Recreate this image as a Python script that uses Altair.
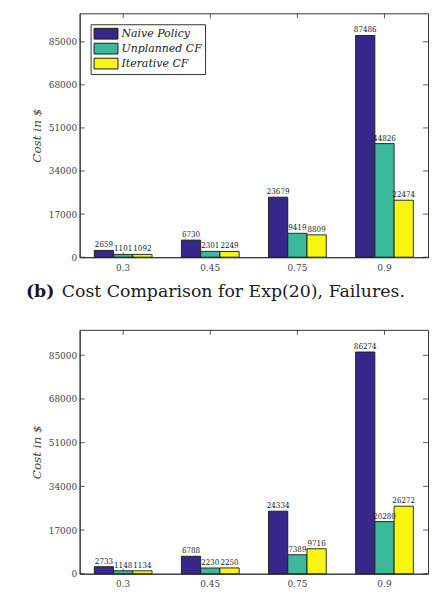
import altair as alt
import pandas as pd

# Utilisation levels and the three cost policies
rates = ["0.3", "0.45", "0.75", "0.9"]
policies = ["Naive Policy", "Unplanned CF", "Iterative CF"]
colors = ["#35288a", "#3bb99a", "#f8f50f"]

# Upper panel: total cost per utilisation level
naive_a = [2659, 6730, 23679, 87486]
unplanned_a = [1101, 2301, 9419, 44826]
iterative_a = [1092, 2249, 8809, 22474]

# Lower panel
naive_b = [2733, 6788, 24334, 86274]
unplanned_b = [1148, 2230, 7389, 20280]
iterative_b = [1134, 2250, 9716, 26272]

y_ticks = [0, 17000, 34000, 51000, 68000, 85000]

caption_tag = "(b)"
caption_text = "Cost Comparison for Exp(20), Failures."

W, H = 350, 245
SERIF = "'DejaVu Serif', serif"
SERIF_NARROW = "'DejaVu Serif Condensed', 'DejaVu Serif', serif"
INK = "#1a1a1a"


def panel(series, with_caption=False):
    rows = []
    for i, r in enumerate(rates):
        for p, vals in zip(policies, series):
            rows.append({"rate": r, "policy": p, "cost": vals[i]})
    df = pd.DataFrame(rows)
    ymax = 1.1 * df["cost"].max()

    xs = alt.Scale(domain=rates, paddingInner=0.337, paddingOuter=0.1685)
    ys = alt.Scale(domain=[0, ymax], nice=False, zero=True)
    xoff = alt.XOffset("policy:N", sort=policies,
                       scale=alt.Scale(domain=policies, paddingInner=0, paddingOuter=0))
    x_axis = alt.Axis(title=None, labelAngle=0, labelPadding=5)
    y_axis = alt.Axis(title="Cost in $", values=y_ticks, format="d",
                      labelPadding=3, titlePadding=5)

    bars = alt.Chart(df).mark_bar(stroke=INK, strokeWidth=0.9).encode(
        x=alt.X("rate:N", scale=xs, sort=rates, axis=x_axis),
        xOffset=xoff,
        y=alt.Y("cost:Q", scale=ys, axis=y_axis),
        color=alt.Color(
            "policy:N",
            scale=alt.Scale(domain=policies, range=colors),
            legend=alt.Legend(
                title=None, orient="none", legendX=11, legendY=11,
                # wide swatch drawn to the right of the symbol anchor
                symbolType="M-1,-0.9H3V0.9H-1Z", symbolSize=144,
                symbolStrokeColor=INK, symbolStrokeWidth=1,
                labelFont=SERIF, labelFontStyle="italic", labelFontSize=11,
                labelColor=INK, labelOffset=15,
                strokeColor="#333", fillColor="white", padding=3,
                rowPadding=0, cornerRadius=0,
            ),
        ),
    )

    values = alt.Chart(df).mark_text(
        baseline="bottom", dy=-1, font=SERIF_NARROW, fontSize=8, color=INK
    ).encode(
        x=alt.X("rate:N", scale=xs, sort=rates, axis=x_axis),
        xOffset=xoff,
        y=alt.Y("cost:Q", scale=ys, axis=y_axis),
        text=alt.Text("cost:Q", format="d"),
    )

    # inward tick marks on all four sides of the box
    ytick_df = pd.DataFrame({"cost": y_ticks})
    left_ticks = alt.Chart(ytick_df).mark_rule(color="#333", strokeWidth=0.8).encode(
        y=alt.Y("cost:Q", scale=ys, axis=y_axis),
        x=alt.value(0), x2=alt.value(5),
    )
    right_ticks = alt.Chart(ytick_df).mark_rule(color="#333", strokeWidth=0.8).encode(
        y=alt.Y("cost:Q", scale=ys, axis=y_axis),
        x=alt.value(W - 5), x2=alt.value(W),
    )
    xtick_df = pd.DataFrame({"rate": rates})
    bottom_ticks = alt.Chart(xtick_df).mark_rule(color="#333", strokeWidth=0.8).encode(
        x=alt.X("rate:N", scale=xs, sort=rates, axis=x_axis, bandPosition=0.5),
        y=alt.value(H - 5), y2=alt.value(H),
    )
    top_ticks = alt.Chart(xtick_df).mark_rule(color="#333", strokeWidth=0.8).encode(
        x=alt.X("rate:N", scale=xs, sort=rates, axis=x_axis, bandPosition=0.5),
        y=alt.value(0), y2=alt.value(5),
    )

    layers = [bottom_ticks, top_ticks, left_ticks, right_ticks, bars, values]

    if with_caption:
        tag = alt.Chart(pd.DataFrame({"t": [caption_tag]})).mark_text(
            align="left", baseline="alphabetic", font=SERIF, fontSize=17.4,
            fontWeight="bold", color=INK,
        ).encode(text="t:N", x=alt.value(-54), y=alt.value(285))
        cap = alt.Chart(pd.DataFrame({"t": [caption_text]})).mark_text(
            align="left", baseline="alphabetic", font=SERIF, fontSize=17.4,
            color=INK,
        ).encode(text="t:N", x=alt.value(-18), y=alt.value(285))
        layers += [tag, cap]

    return alt.layer(*layers).properties(width=W, height=H)


top = panel([naive_a, unplanned_a, iterative_a], with_caption=True)
bottom = panel([naive_b, unplanned_b, iterative_b])

chart = (
    alt.vconcat(top, bottom, spacing=73, bounds="flush")
    .resolve_scale(y="independent")
    .properties(padding={"left": 25, "top": 11, "right": 5, "bottom": 0})
    .configure_view(stroke="#333", strokeWidth=1)
    .configure_axis(
        domainColor="#333", domainWidth=1, ticks=False, grid=False,
        labelFont=SERIF_NARROW, labelFontSize=10, labelColor="#444",
        titleFont=SERIF, titleFontSize=12, titleFontStyle="italic",
        titleFontWeight="normal", titleColor="#444",
    )
)

chart.save("out.html", embed_options={"renderer": "svg", "actions": False})
